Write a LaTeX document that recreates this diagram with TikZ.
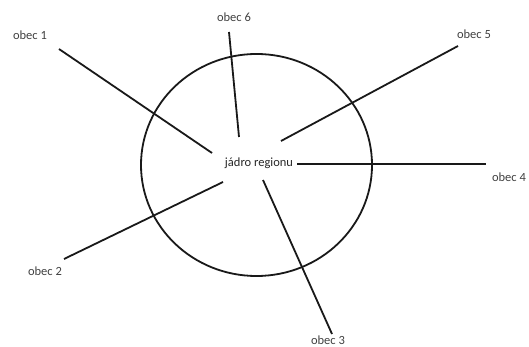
\documentclass[tikz,border=0pt]{standalone}
\usepackage{fontspec}
\setmainfont{Carlito}
\tikzset{
  villagelabel/.style={font=\fontsize{12.5}{14}\selectfont,text=black!75,inner sep=0pt},
  corelabel/.style={font=\fontsize{12.5}{14}\selectfont,text=black!85,inner sep=0pt},
  spoke/.style={line width=1.8pt,draw=black!90}
}
\begin{document}
\begin{tikzpicture}[x=1pt,y=-1pt]
  \useasboundingbox (0,0) rectangle (529,347);

  % region boundary
  \draw[spoke] (256.5,165) ellipse [x radius=115.5, y radius=111];
  \node[corelabel] (core) at (259,163) {jádro regionu};

  % villages
  \node[villagelabel] (obec1) at (30,35) {obec 1};
  \node[villagelabel] (obec2) at (45,271) {obec 2};
  \node[villagelabel] (obec3) at (328,340) {obec 3};
  \node[villagelabel] (obec4) at (509,177) {obec 4};
  \node[villagelabel] (obec5) at (474,34) {obec 5};
  \node[villagelabel] (obec6) at (234,17) {obec 6};

  % spoke ends
  \coordinate (in1) at (212,153);  \coordinate (out1) at (59,49);
  \coordinate (in2) at (223,182);  \coordinate (out2) at (64,259);
  \coordinate (in3) at (263,180);  \coordinate (out3) at (332,334);
  \coordinate (in4) at (297,164);  \coordinate (out4) at (486,164);
  \coordinate (in5) at (281,141);  \coordinate (out5) at (458,46);
  \coordinate (in6) at (239,137);  \coordinate (out6) at (229,32);

  \foreach \i in {1,...,6}
    \draw[spoke] (in\i) -- (out\i);
\end{tikzpicture}
\end{document}
